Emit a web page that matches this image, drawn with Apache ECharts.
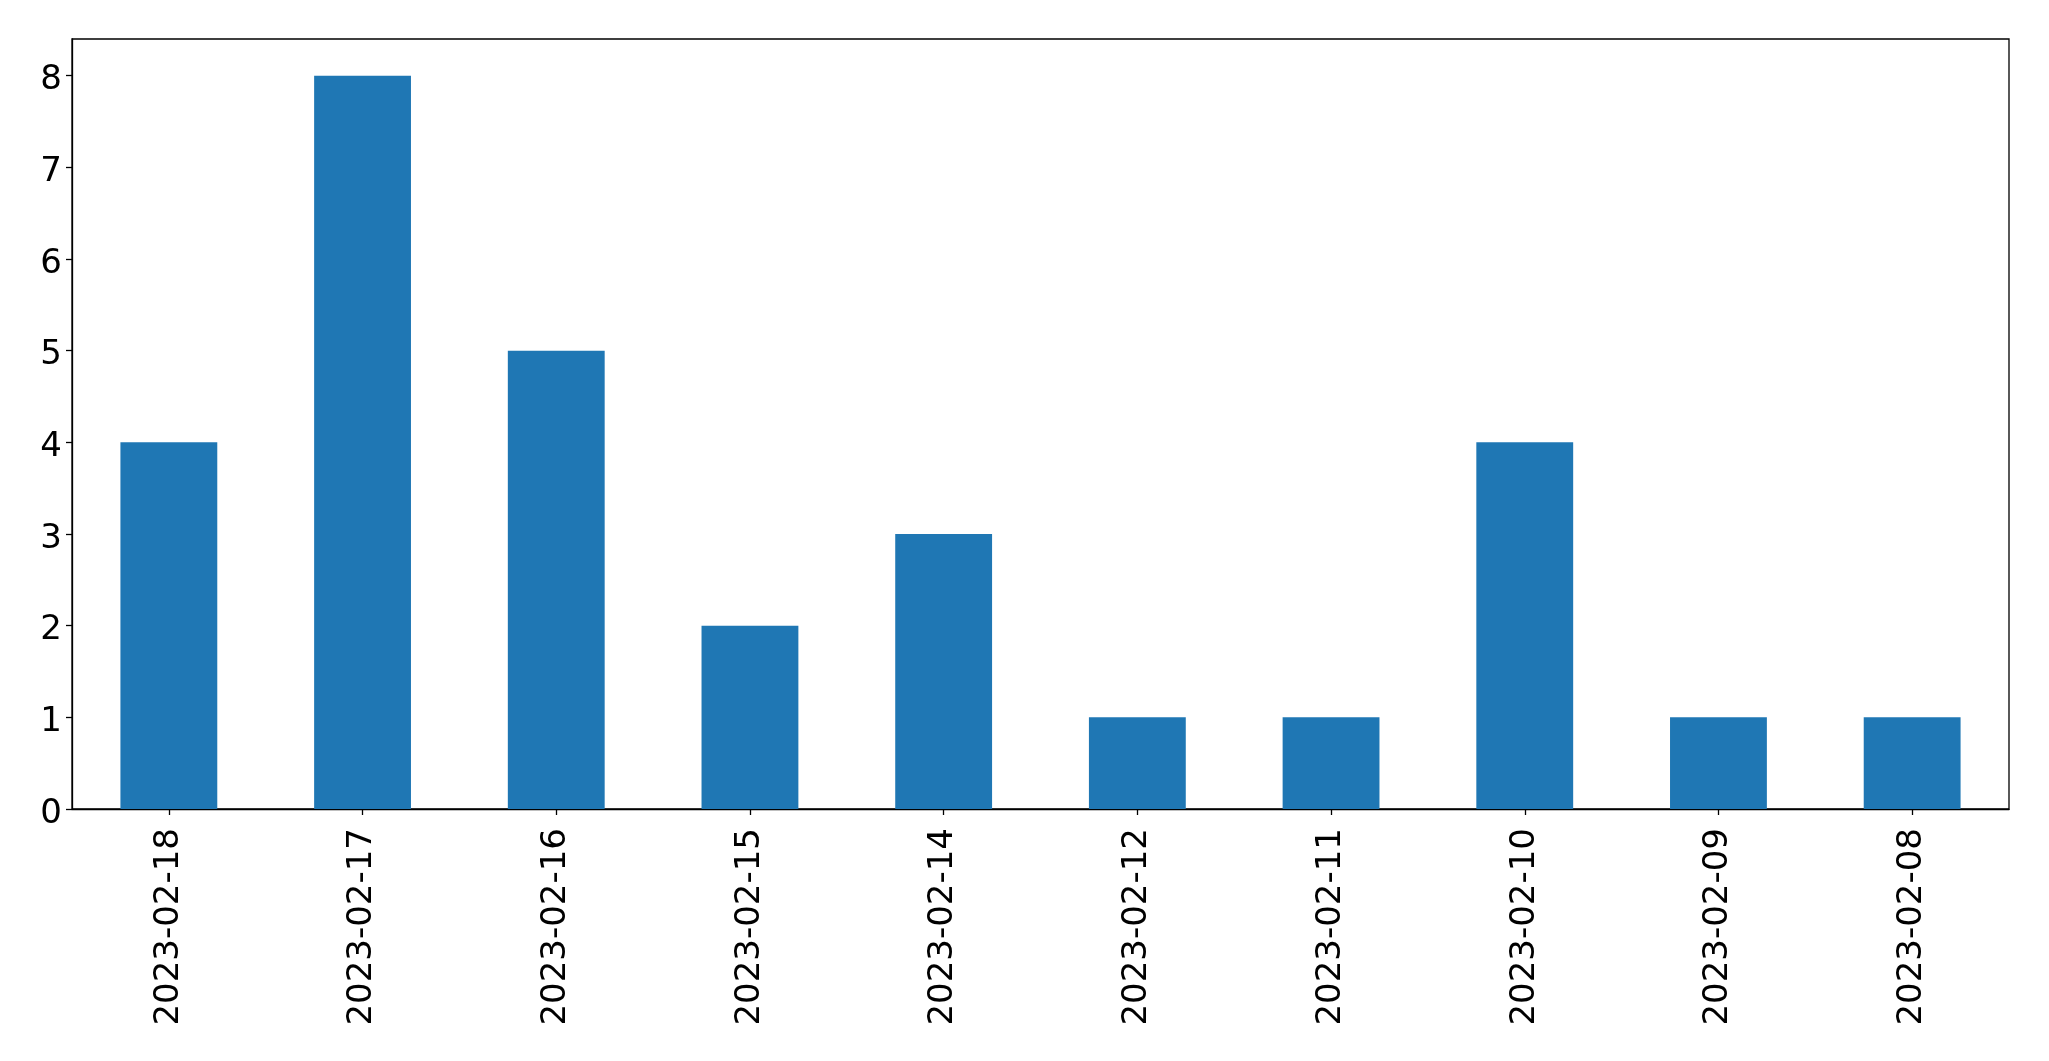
<!DOCTYPE html>
<html>
<head>
<meta charset="utf-8">
<script src="https://cdn.jsdelivr.net/npm/echarts@6/dist/echarts.min.js"></script>
<style>html,body{margin:0;padding:0;background:#fff;}#c{width:2049px;height:1061px;}</style>
</head>
<body>
<div id="c"></div>
<script>
const categories = ['2023-02-18','2023-02-17','2023-02-16','2023-02-15','2023-02-14','2023-02-12','2023-02-11','2023-02-10','2023-02-09','2023-02-08'];
const values = [4, 8, 5, 2, 3, 1, 1, 4, 1, 1];
const yTicks = [0, 1, 2, 3, 4, 5, 6, 7, 8];

const chart = echarts.init(document.getElementById('c'), null, {renderer: 'canvas'});
const font = 'DejaVu Sans';
chart.setOption({
  animation: false,
  backgroundColor: '#ffffff',
  grid: {left: 72, top: 39, width: 1937, height: 770, show: true, borderColor: '#000', borderWidth: 1.3, backgroundColor: 'transparent'},
  xAxis: {
    type: 'category',
    data: categories,
    boundaryGap: true,
    axisLine: {show: true, lineStyle: {color: '#000', width: 1.3}},
    axisTick: {show: true, alignWithLabel: true, length: 6, lineStyle: {color: '#000', width: 1.3}},
    axisLabel: {rotate: 90, margin: 19, fontSize: 34, fontFamily: font, color: '#000', interval: 0}
  },
  yAxis: {
    type: 'value',
    min: 0,
    max: 8.4,
    interval: 1,
    splitLine: {show: false},
    axisLine: {show: true, lineStyle: {color: '#000', width: 1.3}},
    axisTick: {show: true, length: 6, customValues: yTicks, lineStyle: {color: '#000', width: 1.3}},
    axisLabel: {
      margin: 10, fontSize: 34, fontFamily: font, color: '#000',
      customValues: yTicks,
      formatter: function (v) { return '{a|' + v + '}'; },
      rich: {a: {fontSize: 34, fontFamily: font, color: '#000', padding: [10, 0, 0, 0]}}
    }
  },
  series: [{
    type: 'bar',
    data: values,
    barWidth: '50%',
    itemStyle: {color: '#1f77b4'}
  }]
});
</script>
</body>
</html>
